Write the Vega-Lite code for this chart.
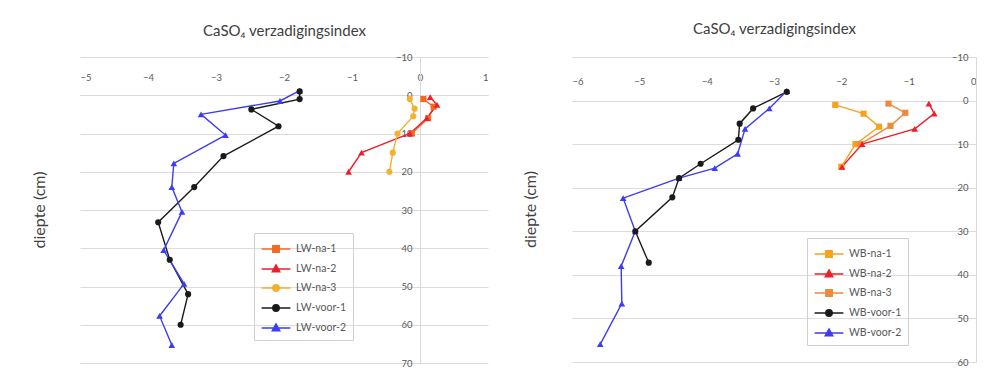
{
  "$schema": "https://vega.github.io/schema/vega-lite/v6.json",
  "usermeta": {"embedOptions": {"actions": false}},
  "padding": {"left": 31, "top": 21, "right": 0, "bottom": 0},
  "background": "white",
  "config": {
    "font": "Lato",
    "view": {"stroke": null},
    "axis": {"labelFont": "Lato", "labelFontSize": 9.5, "labelColor": "#595959", "titleFont": "Lato", "titleFontSize": 15, "titleFontWeight": "normal", "titleColor": "#404040", "domainColor": "#d9d9d9", "tickColor": "#d9d9d9", "gridColor": "#dcdcdc"},
    "title": {"font": "Lato", "fontSize": 16, "fontWeight": "normal", "color": "#404040"},
    "legend": {"labelFont": "Lato", "labelFontSize": 10.5, "labelColor": "#595959"}
  },
  "datasets": {
    "lw": [
      {"series": "LW-na-1", "x": 0.05, "depth": 1},
      {"series": "LW-na-1", "x": 0.2, "depth": 3},
      {"series": "LW-na-1", "x": 0.12, "depth": 6},
      {"series": "LW-na-1", "x": -0.12, "depth": 10},
      {"series": "LW-na-2", "x": 0.15, "depth": 0.5},
      {"series": "LW-na-2", "x": 0.25, "depth": 2.5},
      {"series": "LW-na-2", "x": 0.1, "depth": 6},
      {"series": "LW-na-2", "x": -0.15, "depth": 10},
      {"series": "LW-na-2", "x": -0.86, "depth": 15},
      {"series": "LW-na-2", "x": -1.05, "depth": 20},
      {"series": "LW-na-3", "x": -0.15, "depth": 1},
      {"series": "LW-na-3", "x": -0.08, "depth": 3.5},
      {"series": "LW-na-3", "x": -0.1, "depth": 5.5},
      {"series": "LW-na-3", "x": -0.33, "depth": 10},
      {"series": "LW-na-3", "x": -0.4, "depth": 15},
      {"series": "LW-na-3", "x": -0.45, "depth": 20},
      {"series": "LW-voor-1", "x": -1.77, "depth": -1},
      {"series": "LW-voor-1", "x": -1.77, "depth": 1},
      {"series": "LW-voor-1", "x": -2.48, "depth": 3.7},
      {"series": "LW-voor-1", "x": -2.08, "depth": 8.1},
      {"series": "LW-voor-1", "x": -2.89, "depth": 15.9},
      {"series": "LW-voor-1", "x": -3.32, "depth": 24},
      {"series": "LW-voor-1", "x": -3.85, "depth": 33.2},
      {"series": "LW-voor-1", "x": -3.68, "depth": 43},
      {"series": "LW-voor-1", "x": -3.41, "depth": 52},
      {"series": "LW-voor-1", "x": -3.52, "depth": 60},
      {"series": "LW-voor-2", "x": -1.77, "depth": -1.2},
      {"series": "LW-voor-2", "x": -2.06, "depth": 1.5},
      {"series": "LW-voor-2", "x": -3.22, "depth": 5},
      {"series": "LW-voor-2", "x": -2.86, "depth": 10.4},
      {"series": "LW-voor-2", "x": -3.62, "depth": 17.8},
      {"series": "LW-voor-2", "x": -3.65, "depth": 24},
      {"series": "LW-voor-2", "x": -3.5, "depth": 30.5},
      {"series": "LW-voor-2", "x": -3.77, "depth": 40.5},
      {"series": "LW-voor-2", "x": -3.47, "depth": 49.3},
      {"series": "LW-voor-2", "x": -3.83, "depth": 57.7},
      {"series": "LW-voor-2", "x": -3.65, "depth": 65.3}
    ],
    "wb": [
      {"series": "WB-na-1", "x": -2.09, "depth": 1},
      {"series": "WB-na-1", "x": -1.67, "depth": 3},
      {"series": "WB-na-1", "x": -1.44, "depth": 6},
      {"series": "WB-na-1", "x": -1.79, "depth": 10},
      {"series": "WB-na-1", "x": -2.0, "depth": 15.2},
      {"series": "WB-na-2", "x": -0.7, "depth": 0.7},
      {"series": "WB-na-2", "x": -0.62, "depth": 3},
      {"series": "WB-na-2", "x": -0.91, "depth": 6.5},
      {"series": "WB-na-2", "x": -1.69, "depth": 10},
      {"series": "WB-na-2", "x": -1.99, "depth": 15.2},
      {"series": "WB-na-3", "x": -1.3, "depth": 0.7},
      {"series": "WB-na-3", "x": -1.05, "depth": 2.8},
      {"series": "WB-na-3", "x": -1.27, "depth": 5.8},
      {"series": "WB-na-3", "x": -1.72, "depth": 10},
      {"series": "WB-voor-1", "x": -2.81, "depth": -2},
      {"series": "WB-voor-1", "x": -3.31, "depth": 1.8},
      {"series": "WB-voor-1", "x": -3.51, "depth": 5.3},
      {"series": "WB-voor-1", "x": -3.53, "depth": 9},
      {"series": "WB-voor-1", "x": -4.09, "depth": 14.5},
      {"series": "WB-voor-1", "x": -4.41, "depth": 17.8},
      {"series": "WB-voor-1", "x": -4.51, "depth": 22.2},
      {"series": "WB-voor-1", "x": -5.06, "depth": 30},
      {"series": "WB-voor-1", "x": -4.86, "depth": 37.2},
      {"series": "WB-voor-2", "x": -2.81, "depth": -2.2},
      {"series": "WB-voor-2", "x": -3.07, "depth": 1.8},
      {"series": "WB-voor-2", "x": -3.43, "depth": 6.5},
      {"series": "WB-voor-2", "x": -3.54, "depth": 12.2},
      {"series": "WB-voor-2", "x": -3.88, "depth": 15.5},
      {"series": "WB-voor-2", "x": -4.41, "depth": 17.8},
      {"series": "WB-voor-2", "x": -5.24, "depth": 22.4},
      {"series": "WB-voor-2", "x": -5.06, "depth": 30},
      {"series": "WB-voor-2", "x": -5.27, "depth": 38},
      {"series": "WB-voor-2", "x": -5.26, "depth": 46.6},
      {"series": "WB-voor-2", "x": -5.58, "depth": 55.9}
    ]
  },
  "resolve": {"scale": {"color": "independent"}, "legend": {"color": "independent"}},
  "spacing": 34,
  "hconcat": [
    {
      "width": 408,
      "height": 306,
      "data": {"name": "lw"},
      "title": {"text": "diepte (cm)", "orient": "left", "anchor": "middle", "offset": 32},
      "encoding": {
        "x": {"field": "x", "type": "quantitative", "scale": {"domain": [-5, 1], "nice": false, "zero": false},
          "axis": {"orient": "top", "offset": -38, "values": [-5, -4, -3, -2, -1, 0, 1], "ticks": false, "labelPadding": 13, "grid": false, "title": "CaSO₄ verzadigingsindex", "titlePadding": 34}},
        "y": {"field": "depth", "type": "quantitative", "scale": {"domain": [-10, 70], "reverse": true, "nice": false, "zero": false},
          "axis": {"orient": "left", "offset": -340, "values": [-10, 0, 10, 20, 30, 40, 50, 60, 70], "tickSize": 5, "labelPadding": 3, "grid": true, "title": null}},
        "order": {"field": "depth", "type": "quantitative"},
        "color": {"field": "series", "type": "nominal",
          "scale": {"domain": ["LW-na-1", "LW-na-2", "LW-na-3", "LW-voor-1", "LW-voor-2"], "range": ["#F26A21", "#F01E2A", "#F2B12E", "#1a1a1a", "#3C3CF0"]},
          "legend": {"title": null, "orient": "none", "legendX": 174, "legendY": 176, "padding": 6, "strokeColor": "#d0d0d0", "symbolSize": 324, "symbolOffset": 6, "symbolStrokeWidth": 1.4, "rowPadding": 3, "labelOffset": 10,
            "encode": {"symbols": {"update": {
              "shape": {"signal": "indexof(datum.value, '-na-1') >= 0 ? 'M-1.6,0H1.6M-0.36,-0.36H0.36V0.36H-0.36Z' : (indexof(datum.value, '-na-2') >= 0 || indexof(datum.value, 'voor-2') >= 0) ? 'M-1.6,0H1.6M0,-0.45L0.42,0.3H-0.42Z' : 'M-1.6,0H1.6M-0.36,0A0.36,0.36 0 1,0 0.36,0A0.36,0.36 0 1,0 -0.36,0Z'"},
              "fill": {"signal": "datum.value == 'LW-na-1' ? '#F26A21' : datum.value == 'LW-na-2' ? '#F01E2A' : datum.value == 'LW-na-3' ? '#F2B12E' : datum.value == 'LW-voor-1' ? '#1a1a1a' : '#3C3CF0'"},
              "fillOpacity": {"value": 1},
              "opacity": {"value": 1}
            }}}}
        }
      },
      "layer": [
        {"mark": {"type": "line", "strokeWidth": 1.4}},
        {"transform": [{"filter": {"field": "series", "oneOf": ["LW-na-1"]}}], "mark": {"type": "point", "shape": "square", "filled": true, "size": 38, "opacity": 1}},
        {"transform": [{"filter": {"field": "series", "oneOf": ["LW-na-2", "LW-voor-2"]}}], "mark": {"type": "point", "shape": "triangle-up", "filled": true, "size": 45, "opacity": 1}},
        {"transform": [{"filter": {"field": "series", "oneOf": ["LW-na-3", "LW-voor-1"]}}], "mark": {"type": "point", "shape": "circle", "filled": true, "size": 38, "opacity": 1}}
      ]
    },
    {
      "width": 404,
      "height": 305,
      "data": {"name": "wb"},
      "title": {"text": "diepte (cm)", "orient": "left", "anchor": "middle", "offset": 33},
      "encoding": {
        "x": {"field": "x", "type": "quantitative", "scale": {"domain": [-6, 0], "nice": false, "zero": false},
          "axis": {"orient": "top", "offset": -44, "values": [-6, -5, -4, -3, -2, -1, 0], "ticks": false, "labelPadding": 15, "grid": false, "title": "CaSO₄ verzadigingsindex", "titlePadding": 40}},
        "y": {"field": "depth", "type": "quantitative", "scale": {"domain": [-10, 60], "reverse": true, "nice": false, "zero": false},
          "axis": {"orient": "left", "offset": -404, "values": [-10, 0, 10, 20, 30, 40, 50, 60], "tickSize": 5, "labelPadding": 3, "grid": true, "title": null}},
        "order": {"field": "depth", "type": "quantitative"},
        "color": {"field": "series", "type": "nominal",
          "scale": {"domain": ["WB-na-1", "WB-na-2", "WB-na-3", "WB-voor-1", "WB-voor-2"], "range": ["#F5A21E", "#F01E2A", "#F0883E", "#1a1a1a", "#3C3CF0"]},
          "legend": {"title": null, "orient": "none", "legendX": 235, "legendY": 181, "padding": 6, "strokeColor": "#d0d0d0", "symbolSize": 324, "symbolOffset": 6, "symbolStrokeWidth": 1.4, "rowPadding": 3, "labelOffset": 10,
            "encode": {"symbols": {"update": {
              "shape": {"signal": "(indexof(datum.value, '-na-1') >= 0 || indexof(datum.value, '-na-3') >= 0) ? 'M-1.6,0H1.6M-0.36,-0.36H0.36V0.36H-0.36Z' : (indexof(datum.value, '-na-2') >= 0 || indexof(datum.value, 'voor-2') >= 0) ? 'M-1.6,0H1.6M0,-0.45L0.42,0.3H-0.42Z' : 'M-1.6,0H1.6M-0.36,0A0.36,0.36 0 1,0 0.36,0A0.36,0.36 0 1,0 -0.36,0Z'"},
              "fill": {"signal": "datum.value == 'WB-na-1' ? '#F5A21E' : datum.value == 'WB-na-2' ? '#F01E2A' : datum.value == 'WB-na-3' ? '#F0883E' : datum.value == 'WB-voor-1' ? '#1a1a1a' : '#3C3CF0'"},
              "fillOpacity": {"value": 1},
              "opacity": {"value": 1}
            }}}}
        }
      },
      "layer": [
        {"mark": {"type": "line", "strokeWidth": 1.4}},
        {"transform": [{"filter": {"field": "series", "oneOf": ["WB-na-1", "WB-na-3"]}}], "mark": {"type": "point", "shape": "square", "filled": true, "size": 38, "opacity": 1}},
        {"transform": [{"filter": {"field": "series", "oneOf": ["WB-na-2", "WB-voor-2"]}}], "mark": {"type": "point", "shape": "triangle-up", "filled": true, "size": 45, "opacity": 1}},
        {"transform": [{"filter": {"field": "series", "oneOf": ["WB-voor-1"]}}], "mark": {"type": "point", "shape": "circle", "filled": true, "size": 38, "opacity": 1}}
      ]
    }
  ]
}
